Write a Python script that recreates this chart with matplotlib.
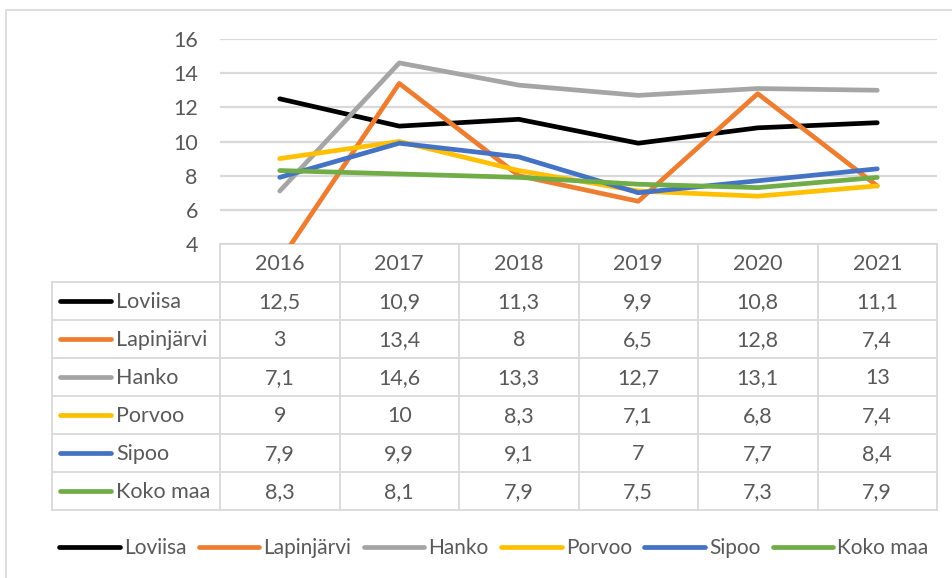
import matplotlib
matplotlib.use("Agg")
import matplotlib.pyplot as plt
from matplotlib.lines import Line2D

plt.rcParams['font.family'] = ['Lato', 'DejaVu Sans']

years = ["2016", "2017", "2018", "2019", "2020", "2021"]
series_names = ["Loviisa", "Lapinjärvi", "Hanko", "Porvoo", "Sipoo", "Koko maa"]
loviisa = [12.5, 10.9, 11.3, 9.9, 10.8, 11.1]
lapinjarvi = [3, 13.4, 8, 6.5, 12.8, 7.4]
hanko = [7.1, 14.6, 13.3, 12.7, 13.1, 13]
porvoo = [9, 10, 8.3, 7.1, 6.8, 7.4]
sipoo = [7.9, 9.9, 9.1, 7, 7.7, 8.4]
koko_maa = [8.3, 8.1, 7.9, 7.5, 7.3, 7.9]
yticks = [4, 6, 8, 10, 12, 14, 16]

series = [loviisa, lapinjarvi, hanko, porvoo, sipoo, koko_maa]
colors = ["#000000", "#ED7D31", "#A5A5A5", "#FFC000", "#4472C4", "#70AD47"]
grid_c = "#D9D9D9"
text_c = "#595959"
FS = 15.5

W, H = 952, 578
fig = plt.figure(figsize=(W / 100, H / 100), dpi=100)

# overlay in pixel coords
ov = fig.add_axes([0, 0, 1, 1])
ov.set_xlim(0, W)
ov.set_ylim(H, 0)
ov.axis('off')

# chart border
ov.plot([6, 6, W + 5], [H + 5, 10, 10], color=grid_c, lw=1.2, solid_capstyle='butt')

# plot area
px0, px1, py_top, py_bot = 220, 937, 39, 244
ax = fig.add_axes([px0 / W, 1 - py_bot / H, (px1 - px0) / W, (py_bot - py_top) / H])
ax.set_xlim(-0.5, len(years) - 0.5)
ax.set_ylim(4, 16)
for sp in ax.spines.values():
    sp.set_visible(False)
ax.set_xticks([])
ax.set_yticks(yticks)
ax.tick_params(axis='y', length=0, pad=16, labelsize=FS, labelcolor=text_c)
ax.yaxis.grid(True, color=grid_c, lw=1.6)
ax.set_axisbelow(True)
ax.patch.set_alpha(0)
xs = list(range(len(years)))
for name, vals, c in zip(series_names, series, colors):
    ax.plot(xs, vals, color=c, lw=3.4, solid_capstyle='round', solid_joinstyle='round', zorder=3)

# data table
col_w = (px1 - px0) / len(years)
row_h = 38
lab_x0 = 52
hdr_top = py_bot
rows_top = hdr_top + row_h
n = len(series_names)
bottom = rows_top + n * row_h
lw_t = 1.3
ov.plot([px0, px1], [hdr_top, hdr_top], color=grid_c, lw=lw_t)
for i in range(n + 1):
    y = rows_top + i * row_h
    ov.plot([lab_x0, px1], [y, y], color=grid_c, lw=lw_t)
ov.plot([lab_x0, lab_x0], [rows_top, bottom], color=grid_c, lw=lw_t)
for j in range(len(years) + 1):
    x = px0 + j * col_w
    ov.plot([x, x], [hdr_top, bottom], color=grid_c, lw=lw_t)


def fmt(v):
    return ("%g" % v).replace('.', ',')

for j, yr in enumerate(years):
    ov.text(px0 + (j + 0.5) * col_w, hdr_top + row_h / 2 + 1, yr, ha='center', va='center',
            fontsize=FS, color=text_c)
for i, (name, vals, c) in enumerate(zip(series_names, series, colors)):
    yc = rows_top + (i + 0.5) * row_h
    ov.plot([60, 111], [yc, yc], color=c, lw=3.4, solid_capstyle='round')
    ov.text(116, yc + 1, name, ha='left', va='center', fontsize=FS, color=text_c)
    for j, v in enumerate(vals):
        ov.text(px0 + (j + 0.5) * col_w, yc + 1, fmt(v), ha='center', va='center',
                fontsize=FS, color=text_c)

# legend
handles = [Line2D([0], [0], color=c, lw=3.4, solid_capstyle='round') for c in colors]
fig.legend(handles, series_names, loc='center', bbox_to_anchor=(494 / W, 1 - 548 / H),
           ncol=6, frameon=False, fontsize=15, handlelength=2.9, handletextpad=0.2,
           columnspacing=0.6, labelcolor=text_c)

fig.savefig("out.png", dpi=100)
